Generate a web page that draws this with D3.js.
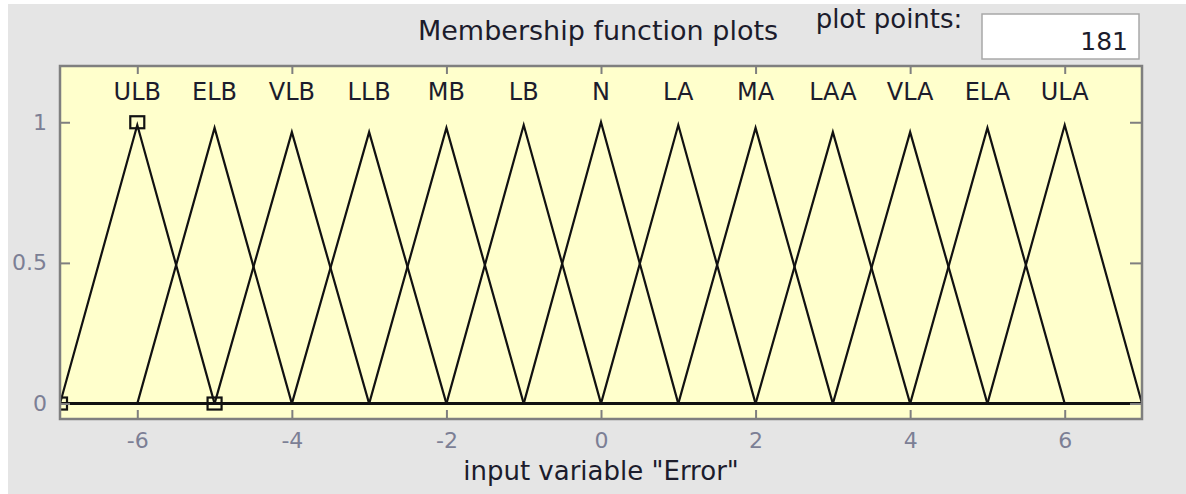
<!DOCTYPE html>
<html>
<head>
<meta charset="utf-8">
<script src="https://cdn.jsdelivr.net/npm/d3@7"></script>
<style>
  body { margin: 0; background: #ffffff; }
  svg { display: block; }
  text { font-family: "DejaVu Sans", sans-serif; }
</style>
</head>
<body>
<svg id="chart"></svg>
<script>
// membership functions of input variable "Error" (trimf params a, b, c)
const mfNames = ["ULB", "ELB", "VLB", "LLB", "MB", "LB", "N", "LA", "MA", "LAA", "VLA", "ELA", "ULA"];
const mfLeft = [-7, -6, -5, -4, -3, -2, -1, 0, 1, 2, 3, 4, 5];
const mfCenters = [-6, -5, -4, -3, -2, -1, 0, 1, 2, 3, 4, 5, 6];
const mfRight = [-5, -4, -3, -2, -1, 0, 1, 2, 3, 4, 5, 6, 7];
// peak heights as plotted with 181 points
const mfPeaks = [0.99, 0.98, 0.965, 0.965, 0.98, 0.99, 1, 0.99, 0.98, 0.965, 0.965, 0.98, 0.99];

// parameter markers of the selected MF (ULB)
const selectedMarkers = [[-7, 0], [-6, 1], [-5, 0]];

const xTicks = [-6, -4, -2, 0, 2, 4, 6];
const yTicks = [0, 0.5, 1];
const yTickLabels = ["0", "0.5", "1"];
const xDomain = [-7, 7];
const yDomain = [-0.055, 1.2];
const plotPoints = "181";

class MfPlot {
  margin = { top: 66, right: 44, bottom: 75, left: 60 };

  constructor(svg, width = 1186, height = 494) {
    this.svg = d3.select(svg);
    this.width = width;
    this.height = height;
  }

  initialize() {
    this.svg.attr("width", this.width).attr("height", this.height);
    this.innerW = this.width - this.margin.left - this.margin.right;
    this.innerH = this.height - this.margin.top - this.margin.bottom;

    // figure panel
    this.svg.append("rect")
      .attr("x", 8).attr("y", 4)
      .attr("width", this.width - 8).attr("height", this.height - 4)
      .attr("fill", "#e5e5e5");

    this.xScale = d3.scaleLinear().domain(xDomain).range([0, this.innerW]);
    this.yScale = d3.scaleLinear().domain(yDomain).range([this.innerH, 0]);

    this.container = this.svg.append("g")
      .attr("transform", `translate(${this.margin.left}, ${this.margin.top})`);

    this.container.append("rect")
      .attr("width", this.innerW).attr("height", this.innerH)
      .attr("fill", "#ffffcc");

    this.svg.append("clipPath").attr("id", "plot-clip")
      .append("rect").attr("width", this.innerW).attr("height", this.innerH);
  }

  update() {
    const x = this.xScale, y = this.yScale;
    const tickColor = "#7f7f7f";

    const mfData = mfNames.map((name, i) => ({
      name,
      center: mfCenters[i],
      peak: mfPeaks[i],
      pts: [[xDomain[0], 0], [mfLeft[i], 0], [mfCenters[i], mfPeaks[i]], [mfRight[i], 0], [xDomain[1], 0]]
    }));

    const line = d3.line().x(d => x(d[0])).y(d => y(d[1]));

    const plot = this.container.append("g").attr("clip-path", "url(#plot-clip)");

    plot.selectAll("path.mf")
      .data(mfData)
      .join("path")
      .attr("class", "mf")
      .attr("d", d => line(d.pts))
      .attr("fill", "none")
      .attr("stroke", "#111")
      .attr("stroke-width", 2.2);

    plot.selectAll("rect.marker")
      .data(selectedMarkers)
      .join("rect")
      .attr("class", "marker")
      .attr("x", d => x(d[0]) - 7)
      .attr("y", d => y(d[1]) - 6)
      .attr("width", 14)
      .attr("height", 12)
      .attr("fill", "none")
      .attr("stroke", "#111")
      .attr("stroke-width", 2.2);

    // MF names above each peak
    this.container.selectAll("text.mf-label")
      .data(mfData)
      .join("text")
      .attr("class", "mf-label")
      .attr("x", d => x(d.center))
      .attr("y", y(1.08))
      .attr("text-anchor", "middle")
      .style("font-size", "24px")
      .attr("fill", "#1c1c2c")
      .text(d => d.name);

    // axes: inside ticks on all sides
    const xAxisBottom = d3.axisBottom(x).tickValues(xTicks).tickSizeInner(-9).tickSizeOuter(0)
      .tickPadding(13).tickFormat(d => d < 0 ? "-" + Math.abs(d) : d);
    const xAxisTop = d3.axisTop(x).tickValues(xTicks).tickSizeInner(-8).tickSizeOuter(0).tickFormat("");
    const yAxisLeft = d3.axisLeft(y).tickValues(yTicks).tickSizeInner(-10).tickSizeOuter(0)
      .tickPadding(13).tickFormat((d, i) => yTickLabels[i]);
    const yAxisRight = d3.axisRight(y).tickValues(yTicks).tickSizeInner(-12).tickSizeOuter(0).tickFormat("");

    const gxb = this.container.append("g").attr("transform", `translate(0, ${this.innerH})`).call(xAxisBottom);
    const gxt = this.container.append("g").call(xAxisTop);
    const gyl = this.container.append("g").call(yAxisLeft);
    const gyr = this.container.append("g").attr("transform", `translate(${this.innerW}, 0)`).call(yAxisRight);

    [gxb, gxt, gyl, gyr].forEach(g => {
      g.select(".domain").remove();
      g.selectAll(".tick line").attr("stroke", tickColor).attr("stroke-width", 2);
      g.selectAll(".tick text")
        .attr("fill", "#7c7f95")
        .style("font-family", "DejaVu Sans, sans-serif")
        .style("font-size", "22px");
    });

    // axes box
    this.container.append("rect")
      .attr("width", this.innerW).attr("height", this.innerH)
      .attr("fill", "none")
      .attr("stroke", tickColor)
      .attr("stroke-width", 2.5);

    // x label
    this.container.append("text")
      .attr("x", this.innerW / 2)
      .attr("y", this.innerH + 61)
      .attr("text-anchor", "middle")
      .style("font-size", "26px")
      .attr("fill", "#1c1c2c")
      .text('input variable "Error"');

    // header
    this.svg.append("text")
      .attr("x", 598).attr("y", 40)
      .attr("text-anchor", "middle")
      .style("font-size", "27px")
      .attr("fill", "#1c1c2c")
      .text("Membership function plots");

    this.svg.append("text")
      .attr("x", 889).attr("y", 28)
      .attr("text-anchor", "middle")
      .style("font-size", "26px")
      .attr("fill", "#1c1c2c")
      .text("plot points:");

    this.svg.append("rect")
      .attr("x", 982).attr("y", 14)
      .attr("width", 157).attr("height", 45)
      .attr("fill", "#ffffff")
      .attr("stroke", "#a8a8a8")
      .attr("stroke-width", 1.5);

    this.svg.append("text")
      .attr("x", 1128).attr("y", 50)
      .attr("text-anchor", "end")
      .style("font-size", "25px")
      .attr("fill", "#1c1c2c")
      .text(plotPoints);
  }
}

const chart = new MfPlot(document.getElementById("chart"));
chart.initialize();
chart.update();
</script>
</body>
</html>
